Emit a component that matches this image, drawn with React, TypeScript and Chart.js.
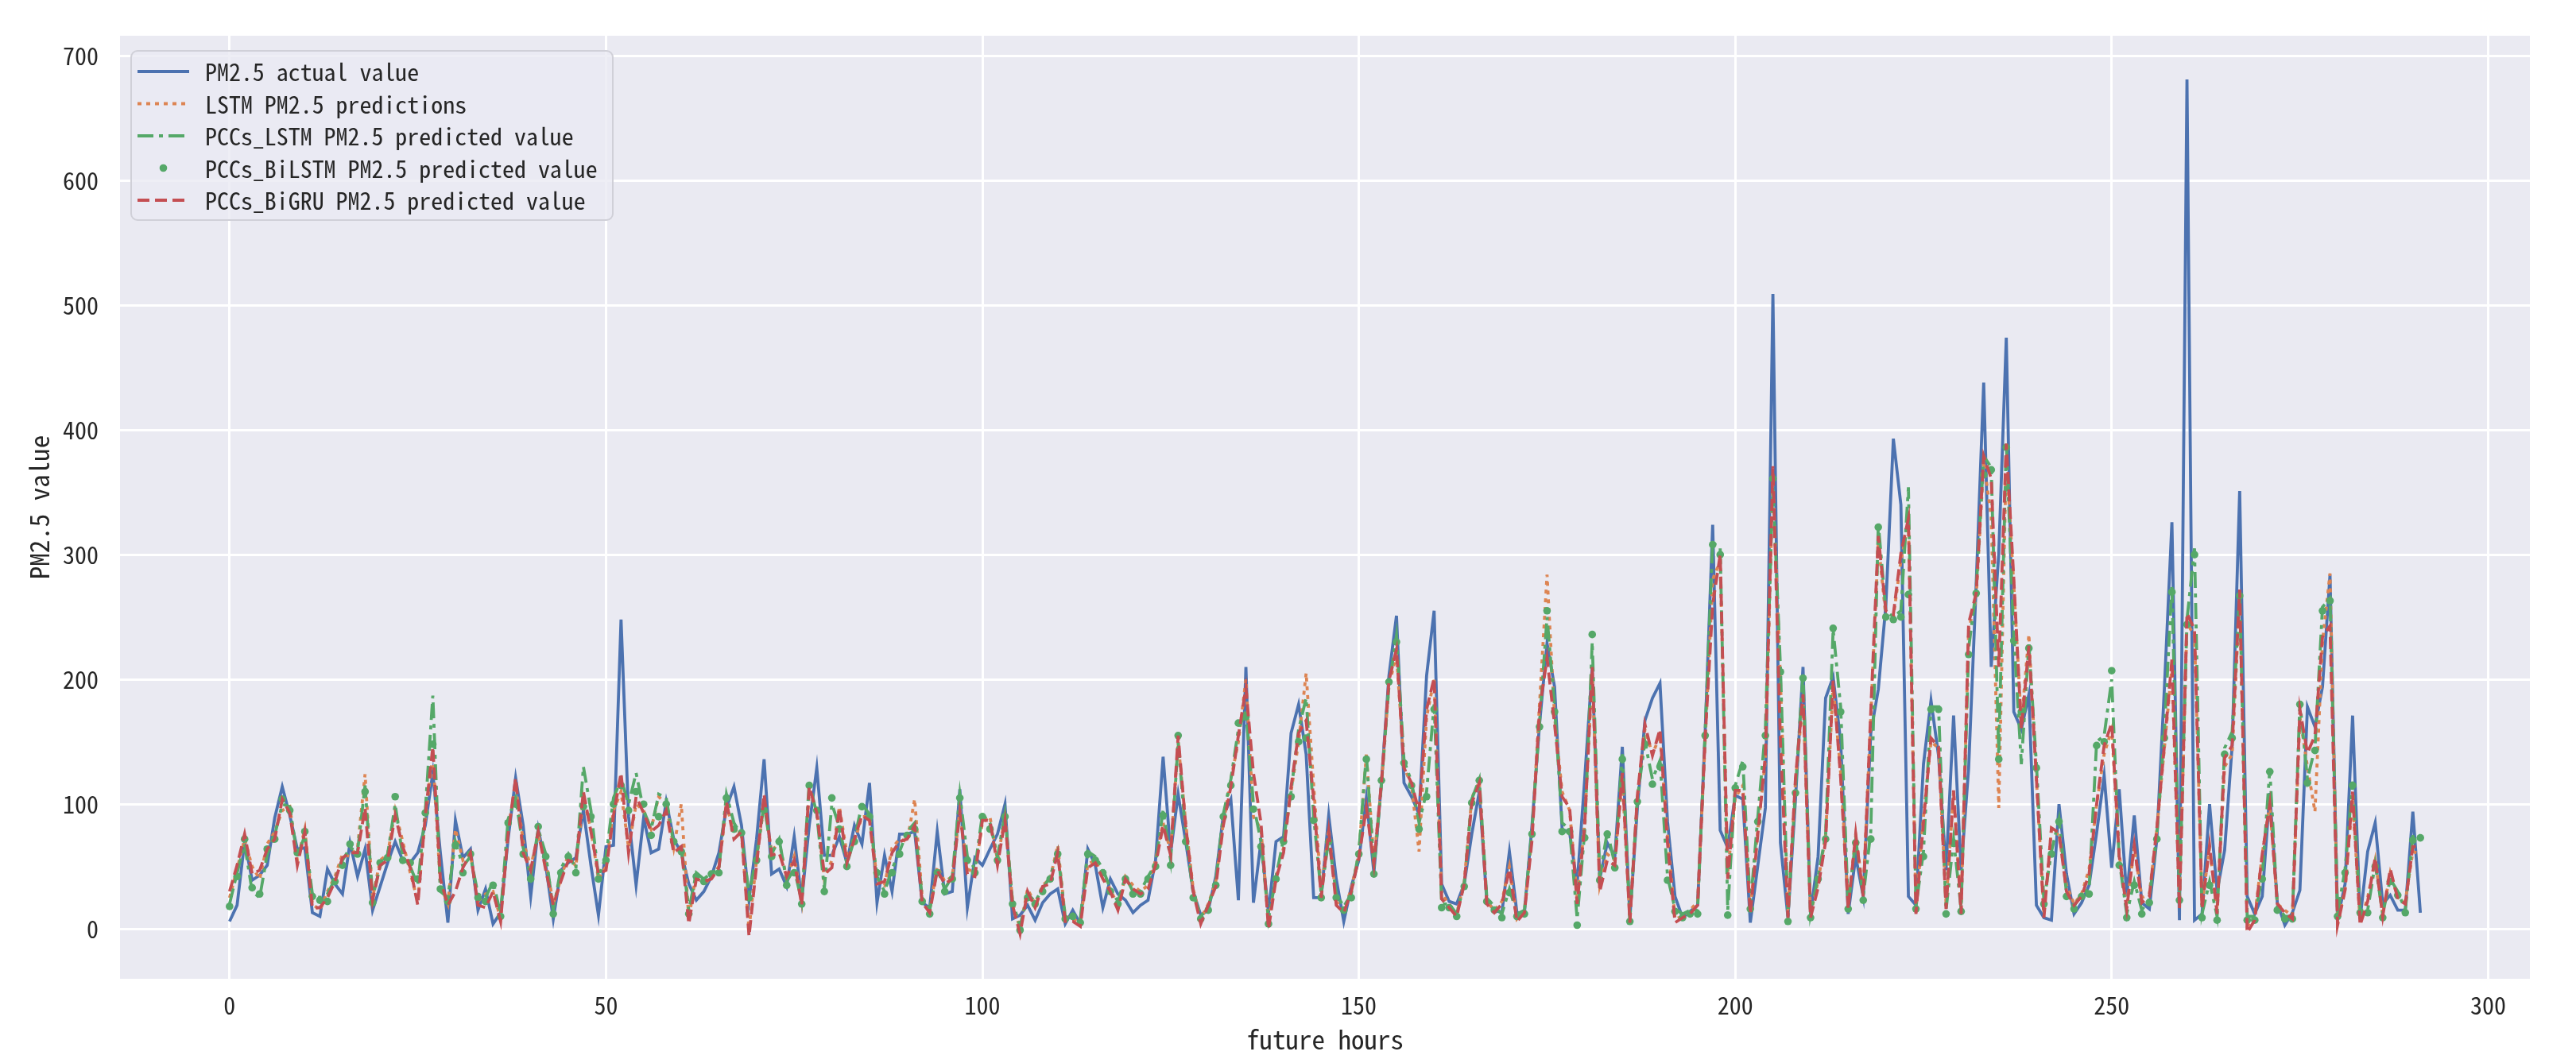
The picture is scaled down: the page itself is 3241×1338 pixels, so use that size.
import React, { useEffect, useRef } from "react";
import { Chart, registerables } from "chart.js";

Chart.register(...registerables);

// PM2.5 actual value (hours 0..291)
const actual = [
  // 0-28
  6, 19, 70, 39, 43, 51, 89, 114, 91, 64, 65, 13, 10, 48, 36, 28, 69, 42, 64, 15, 34, 53, 70, 55, 53, 61, 83, 125, 61,
  // 29-59
  5, 87, 57, 64, 15, 32, 4, 13, 72, 121, 83, 26, 80, 51, 8, 47, 53, 57, 95, 51, 11, 66, 67, 248, 90, 35, 89, 61, 64, 102, 72,
  // 60-89
  61, 36, 23, 30, 42, 61, 97, 114, 83, 23, 72, 136, 44, 48, 34, 74, 23, 83, 129, 59, 59, 74, 53, 83, 68, 117, 21, 59, 30, 76,
  // 90-119
  76, 78, 21, 17, 78, 28, 30, 112, 17, 57, 51, 64, 76, 100, 8, 11, 19, 7, 21, 28, 32, 4, 15, 4, 64, 51, 17, 40, 28, 23,
  // 120-150
  13, 19, 23, 55, 138, 61, 108, 70, 30, 11, 15, 42, 91, 104, 23, 210, 21, 70, 13, 70, 74, 157, 180, 140, 25, 25, 91, 40, 6, 34, 55,
  // 151-180
  105, 45, 117, 203, 251, 117, 106, 92, 203, 255, 36, 22, 20, 36, 76, 110, 22, 15, 13, 62, 13, 13, 83, 164, 229, 194, 80, 77, 36, 120,
  // 181-211
  210, 40, 69, 58, 146, 9, 97, 167, 185, 197, 86, 26, 9, 14, 19, 157, 324, 79, 65, 107, 104, 5, 51, 97, 509, 69, 9, 104, 210, 12, 58,
  // 212-241
  185, 202, 150, 12, 58, 26, 157, 192, 259, 393, 340, 26, 19, 132, 183, 139, 47, 171, 47, 129, 276, 438, 210, 301, 474, 174, 160, 188, 19, 9,
  // 242-272
  7, 100, 44, 12, 21, 35, 77, 123, 49, 112, 26, 91, 21, 16, 72, 193, 326, 7, 681, 7, 12, 100, 30, 63, 147, 351, 26, 12, 26, 109, 21,
  // 273-291
  3, 13, 31, 178, 162, 194, 284, 8, 36, 171, 8, 62, 85, 20, 27, 15, 15, 94, 13,
];

// LSTM PM2.5 predictions
const lstm = [
  25, 48, 72, 50, 40, 68, 78, 95, 98, 55, 80, 20, 15, 30, 42, 60, 58, 65, 124, 25, 55, 60, 95, 70, 45, 22, 88, 140, 35,
  20, 80, 55, 60, 22, 28, 30, 8, 80, 115, 70, 50, 75, 55, 20, 40, 60, 50, 105, 80, 40, 50, 95, 110, 65, 100, 95, 80, 106, 100, 65,
  100, 8, 45, 35, 42, 50, 98, 80, 75, 0, 55, 100, 62, 70, 40, 58, 22, 110, 95, 40, 55, 98, 60, 70, 90, 90, 40, 35, 65, 72,
  70, 104, 25, 15, 50, 38, 42, 95, 48, 45, 85, 90, 55, 90, 22, 0, 32, 20, 35, 40, 67, 10, 8, 5, 52, 55, 42, 32, 18, 42,
  35, 30, 35, 55, 85, 62, 150, 85, 32, 8, 20, 38, 85, 120, 150, 200, 90, 80, 5, 42, 65, 110, 150, 205, 115, 30, 80, 22, 15, 32, 60,
  140, 55, 115, 195, 220, 130, 115, 62, 170, 200, 28, 20, 12, 38, 105, 118, 22, 15, 22, 50, 8, 15, 75, 180, 284, 170, 110, 95, 25, 85,
  205, 35, 60, 55, 120, 8, 105, 160, 140, 155, 75, 8, 10, 15, 22, 150, 280, 295, 45, 105, 115, 15, 80, 135, 360, 200, 12, 118, 185, 12, 38,
  75, 195, 125, 20, 75, 30, 170, 310, 250, 250, 295, 325, 15, 90, 150, 145, 20, 110, 15, 240, 265, 375, 330, 97, 380, 275, 165, 236, 120, 12,
  80, 75, 35, 20, 28, 48, 100, 140, 160, 60, 18, 65, 25, 28, 80, 145, 210, 20, 245, 235, 20, 65, 15, 130, 140, 265, 2, 10, 60, 100, 20,
  15, 10, 170, 130, 94, 230, 285, 5, 32, 105, 5, 25, 55, 12, 45, 25, 22, 62, 60,
];

// PCCs_LSTM PM2.5 predicted value
const pccsLstm = [
  20, 45, 68, 30, 25, 60, 75, 100, 98, 58, 75, 28, 25, 28, 40, 55, 65, 62, 115, 25, 50, 60, 100, 58, 50, 35, 95, 187, 30,
  25, 70, 50, 58, 28, 25, 38, 12, 88, 105, 65, 42, 80, 60, 15, 48, 60, 48, 130, 95, 42, 58, 105, 120, 100, 125, 95, 80, 108, 105, 68,
  65, 15, 45, 40, 45, 48, 108, 85, 75, 28, 58, 100, 60, 72, 38, 48, 22, 118, 92, 32, 100, 82, 52, 72, 100, 92, 42, 30, 48, 62,
  78, 85, 25, 15, 48, 32, 42, 108, 58, 48, 92, 85, 58, 92, 22, 2, 28, 22, 32, 42, 62, 10, 12, 8, 62, 58, 48, 32, 22, 42,
  30, 30, 42, 52, 95, 55, 150, 75, 28, 10, 18, 38, 92, 120, 160, 175, 100, 70, 8, 42, 72, 110, 160, 185, 90, 28, 72, 28, 18, 28, 62,
  140, 48, 115, 195, 235, 135, 118, 85, 110, 180, 20, 20, 12, 36, 104, 120, 25, 18, 12, 32, 12, 15, 80, 165, 250, 178, 85, 80, 8, 78,
  230, 42, 78, 52, 140, 8, 105, 150, 120, 135, 42, 16, 12, 15, 15, 158, 310, 305, 15, 115, 135, 18, 90, 160, 355, 210, 10, 112, 205, 12, 42,
  75, 240, 178, 18, 72, 26, 78, 325, 255, 250, 255, 354, 18, 62, 178, 178, 15, 72, 16, 225, 272, 379, 370, 140, 390, 235, 132, 228, 132, 22,
  62, 88, 28, 18, 28, 32, 150, 155, 200, 55, 12, 38, 15, 24, 75, 158, 275, 26, 248, 305, 12, 38, 10, 145, 158, 270, 10, 10, 42, 128, 18,
  10, 10, 182, 120, 145, 258, 265, 12, 48, 118, 15, 15, 52, 12, 40, 30, 15, 74, 75,
];

// PCCs_BiLSTM PM2.5 predicted value
const pccsBiLstm = [
  18, 42, 72, 33, 28, 64, 72, 104, 95, 61, 78, 26, 23, 22, 38, 51, 68, 60, 110, 21, 53, 57, 106, 55, 53, 40, 93, 148, 32,
  22, 67, 45, 60, 25, 22, 35, 10, 85, 100, 60, 40, 82, 58, 12, 45, 58, 45, 98, 90, 40, 55, 100, 115, 95, 110, 100, 75, 90, 100, 70,
  62, 12, 42, 38, 44, 45, 105, 80, 77, 25, 55, 95, 58, 70, 35, 45, 20, 115, 95, 30, 105, 80, 50, 70, 98, 90, 45, 28, 45, 60,
  75, 80, 22, 12, 45, 30, 40, 105, 55, 45, 90, 80, 55, 90, 20, -1, 25, 20, 30, 40, 60, 8, 10, 5, 60, 55, 45, 30, 20, 40,
  28, 28, 40, 50, 91, 51, 155, 70, 25, 8, 15, 35, 90, 115, 165, 170, 96, 66, 4, 40, 70, 106, 150, 153, 87, 25, 70, 25, 15, 25, 60,
  136, 44, 119, 198, 230, 133, 115, 80, 106, 176, 17, 17, 10, 34, 101, 119, 22, 15, 9, 29, 10, 12, 76, 162, 255, 174, 78, 78, 3, 73,
  236, 39, 76, 49, 136, 6, 102, 148, 116, 130, 39, 14, 9, 12, 12, 155, 308, 300, 11, 113, 130, 16, 86, 155, 361, 206, 6, 109, 201, 9, 40,
  72, 241, 174, 16, 69, 23, 72, 322, 250, 248, 250, 268, 16, 58, 176, 176, 12, 69, 14, 220, 269, 364, 368, 136, 386, 231, 174, 225, 129, 20,
  60, 86, 26, 16, 26, 28, 147, 150, 207, 51, 9, 35, 12, 21, 72, 153, 270, 23, 244, 300, 9, 35, 7, 140, 153, 267, 7, 7, 40, 126, 15,
  8, 8, 180, 117, 143, 255, 263, 10, 45, 115, 13, 13, 50, 9, 38, 27, 13, 71, 73,
];

// PCCs_BiGRU PM2.5 predicted value
const pccsBiGru = [
  30, 51, 76, 44, 47, 64, 72, 104, 93, 51, 78, 17, 17, 25, 38, 57, 61, 61, 97, 23, 51, 55, 91, 66, 49, 19, 91, 146, 40,
  19, 30, 49, 61, 19, 17, 30, 6, 76, 121, 61, 47, 78, 47, 19, 38, 55, 53, 110, 78, 44, 47, 91, 125, 61, 106, 93, 78, 83, 95, 61,
  66, 4, 40, 38, 40, 49, 102, 72, 78, -6, 51, 108, 59, 61, 42, 55, 19, 114, 93, 44, 49, 97, 53, 72, 91, 87, 36, 38, 61, 70,
  72, 83, 21, 13, 47, 36, 40, 93, 44, 42, 87, 87, 51, 87, 19, -4, 30, 17, 34, 36, 61, 6, 6, 2, 49, 53, 40, 30, 15, 40,
  32, 28, 32, 51, 83, 59, 155, 83, 30, 4, 19, 34, 83, 114, 155, 193, 125, 85, 0, 40, 61, 114, 157, 167, 104, 25, 78, 19, 13, 30, 57,
  97, 52, 117, 199, 224, 129, 117, 94, 176, 201, 24, 17, 10, 36, 101, 117, 20, 13, 20, 48, 6, 13, 71, 176, 217, 164, 106, 97, 20, 83,
  210, 30, 55, 51, 125, 5, 107, 164, 139, 160, 69, 5, 9, 12, 19, 153, 260, 300, 40, 111, 111, 12, 76, 139, 371, 150, 9, 121, 188, 9, 33,
  70, 199, 121, 16, 76, 26, 174, 315, 255, 252, 301, 329, 12, 86, 153, 146, 16, 111, 12, 245, 269, 379, 361, 210, 389, 280, 160, 227, 121, 9,
  81, 77, 30, 19, 26, 44, 100, 147, 165, 58, 16, 67, 21, 26, 81, 147, 216, 16, 253, 240, 16, 67, 12, 137, 147, 272, -3, 7, 60, 100, 20,
  13, 8, 176, 141, 155, 234, 243, 3, 31, 110, 3, 22, 57, 10, 48, 24, 20, 66, 66,
];

const hours = Array.from({ length: actual.length }, (_, i) => i);

const seriesLabels = [
  "PM2.5 actual value",
  "LSTM PM2.5 predictions",
  "PCCs_LSTM PM2.5 predicted value",
  "PCCs_BiLSTM PM2.5 predicted value",
  "PCCs_BiGRU PM2.5 predicted value",
];

const xTitle = "future hours";
const yTitle = "PM2.5 value";

const FONT = '"Noto Sans Mono CJK SC", "DejaVu Sans Mono", monospace';
const TEXT = "#262626";
const W = 3241;
const H = 1338;

const bgPlugin = {
  id: "bgPlugin",
  beforeDraw(chart: any) {
    const { ctx, chartArea } = chart;
    ctx.save();
    ctx.fillStyle = "#ffffff";
    ctx.fillRect(0, 0, chart.width, chart.height);
    ctx.fillStyle = "#EAEAF2";
    ctx.fillRect(chartArea.left, chartArea.top, chartArea.right - chartArea.left, chartArea.bottom - chartArea.top);
    ctx.restore();
  },
};

const legendPlugin = {
  id: "customLegend",
  afterDraw(chart: any) {
    const { ctx, chartArea } = chart;
    const x0 = chartArea.left + 14;
    const y0 = chartArea.top + 19;
    const bw = 606;
    const bh = 213;
    ctx.save();
    ctx.beginPath();
    const r = 8;
    ctx.moveTo(x0 + r, y0);
    ctx.lineTo(x0 + bw - r, y0);
    ctx.arcTo(x0 + bw, y0, x0 + bw, y0 + r, r);
    ctx.lineTo(x0 + bw, y0 + bh - r);
    ctx.arcTo(x0 + bw, y0 + bh, x0 + bw - r, y0 + bh, r);
    ctx.lineTo(x0 + r, y0 + bh);
    ctx.arcTo(x0, y0 + bh, x0, y0 + bh - r, r);
    ctx.lineTo(x0, y0 + r);
    ctx.arcTo(x0, y0, x0 + r, y0, r);
    ctx.closePath();
    ctx.fillStyle = "rgba(234,234,242,0.8)";
    ctx.fill();
    ctx.lineWidth = 2;
    ctx.strokeStyle = "#d0d0d8";
    ctx.stroke();

    // fit font so that the longest label has the target width
    ctx.font = `30px ${FONT}`;
    let maxW = 0;
    chart.data.datasets.forEach((ds: any) => {
      maxW = Math.max(maxW, ctx.measureText(ds.label).width);
    });
    const size = Math.max(18, Math.min(34, (30 * 494) / maxW));
    ctx.font = `${size}px ${FONT}`;
    ctx.textBaseline = "middle";
    ctx.textAlign = "left";

    chart.data.datasets.forEach((ds: any, i: number) => {
      const cy = y0 + 26 + i * 40.5;
      const lx0 = x0 + 8;
      const lx1 = x0 + 73;
      if (ds.showLine === false) {
        ctx.beginPath();
        ctx.setLineDash([]);
        ctx.fillStyle = ds.pointBackgroundColor;
        ctx.arc((lx0 + lx1) / 2, cy, ds.pointRadius, 0, Math.PI * 2);
        ctx.fill();
      } else {
        ctx.beginPath();
        ctx.setLineDash(ds.borderDash || []);
        ctx.lineWidth = ds.borderWidth;
        ctx.strokeStyle = ds.borderColor;
        ctx.lineCap = "butt";
        ctx.moveTo(lx0, cy);
        ctx.lineTo(lx1, cy);
        ctx.stroke();
      }
      ctx.setLineDash([]);
      ctx.fillStyle = TEXT;
      ctx.fillText(ds.label, x0 + 93, cy + 1);
    });
    ctx.restore();
  },
};

export default function App() {
  const canvasRef = useRef<HTMLCanvasElement | null>(null);

  useEffect(() => {
    document.body.style.margin = "0";
    const canvas = canvasRef.current;
    if (!canvas) return;
    const lw = 3.8;
    const chart = new Chart(canvas, {
      type: "line",
      data: {
        labels: hours,
        datasets: [
          {
            label: seriesLabels[0],
            data: actual,
            borderColor: "#4C72B0",
            backgroundColor: "#4C72B0",
            borderWidth: lw,
            pointRadius: 0,
            fill: false,
            order: 5,
          },
          {
            label: seriesLabels[1],
            data: lstm,
            borderColor: "#DD8452",
            backgroundColor: "#DD8452",
            borderWidth: lw,
            borderDash: [5, 6],
            pointRadius: 0,
            fill: false,
            order: 4,
          },
          {
            label: seriesLabels[2],
            data: pccsLstm,
            borderColor: "#55A868",
            backgroundColor: "#55A868",
            borderWidth: lw,
            borderDash: [20, 7, 5, 7],
            pointRadius: 0,
            fill: false,
            order: 3,
          },
          {
            label: seriesLabels[3],
            data: pccsBiLstm,
            showLine: false,
            borderColor: "#55A868",
            backgroundColor: "#55A868",
            pointBackgroundColor: "#55A868",
            pointBorderWidth: 0,
            pointRadius: 4.8,
            fill: false,
            order: 2,
          },
          {
            label: seriesLabels[4],
            data: pccsBiGru,
            borderColor: "#C44E52",
            backgroundColor: "#C44E52",
            borderWidth: lw,
            borderDash: [15, 7],
            pointRadius: 0,
            fill: false,
            order: 1,
          },
        ] as any,
      },
      options: {
        responsive: false,
        animation: false,
        devicePixelRatio: 1,
        layout: { padding: { left: 0, right: 58, top: 37, bottom: 0 } },
        plugins: {
          legend: { display: false },
          tooltip: { enabled: false },
        },
        elements: { line: { tension: 0 } },
        scales: {
          x: {
            type: "linear",
            min: -14.55,
            max: 305.55,
            border: { display: false },
            grid: { color: "#ffffff", lineWidth: 3, drawTicks: false },
            ticks: {
              stepSize: 50,
              includeBounds: false,
              autoSkip: false,
              maxRotation: 0,
              padding: 16,
              color: TEXT,
              font: { family: FONT, size: 30 },
            },
            title: {
              display: true,
              text: xTitle,
              color: TEXT,
              font: { family: FONT, size: 33 },
              padding: { top: 0, bottom: 10 },
            },
            afterFit: (s: any) => {
              s.height = 106;
            },
          },
          y: {
            type: "linear",
            min: -40,
            max: 716,
            border: { display: false },
            grid: { color: "#ffffff", lineWidth: 3, drawTicks: false },
            ticks: {
              stepSize: 100,
              includeBounds: false,
              autoSkip: false,
              padding: 27,
              color: TEXT,
              font: { family: FONT, size: 30 },
            },
            title: {
              display: true,
              text: yTitle,
              color: TEXT,
              font: { family: FONT, size: 33 },
              padding: { top: 30, bottom: 0 },
            },
            afterFit: (s: any) => {
              s.width = 151;
            },
          },
        },
      } as any,
      plugins: [bgPlugin, legendPlugin],
    });
    return () => {
      chart.destroy();
    };
  }, []);

  return (
    <div style={{ width: W, height: H }}>
      <canvas ref={canvasRef} width={W} height={H} style={{ display: "block", width: W, height: H }} />
    </div>
  );
}
